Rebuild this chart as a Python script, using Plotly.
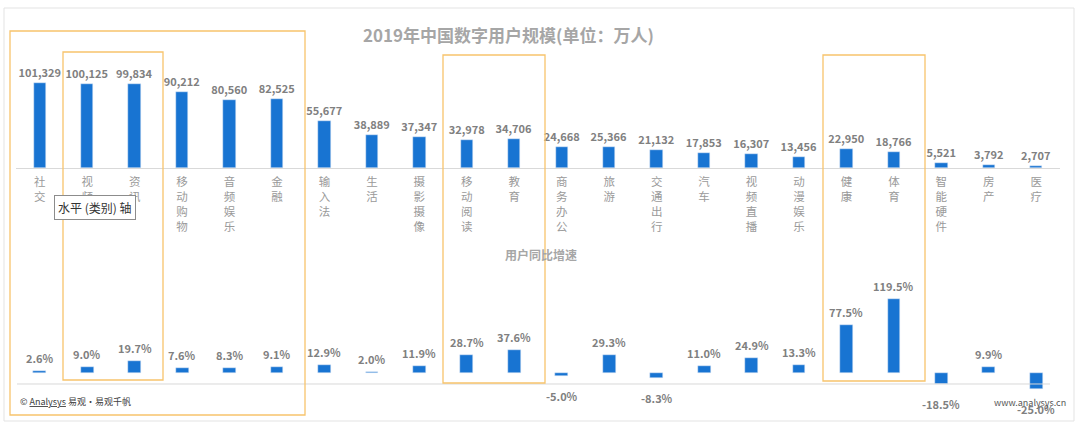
import plotly.graph_objects as go
from plotly.subplots import make_subplots

# Daten
kategorien = ["社交", "视频", "资讯", "移动购物", "音频娱乐", "金融", "输入法", "生活", "摄影摄像",
              "移动阅读", "教育", "商务办公", "旅游", "交通出行", "汽车", "视频直播", "动漫娱乐",
              "健康", "体育", "智能硬件", "房产", "医疗"]
nutzer = [101329, 100125, 99834, 90212, 80560, 82525, 55677, 38889, 37347, 32978, 34706,
          24668, 25366, 21132, 17853, 16307, 13456, 22950, 18766, 5521, 3792, 2707]
wachstum = [2.6, 9.0, 19.7, 7.6, 8.3, 9.1, 12.9, 2.0, 11.9, 28.7, 37.6, -5.0, 29.3, -8.3,
            11.0, 24.9, 13.3, 77.5, 119.5, -18.5, 9.9, -25.0]

W, H = 1080, 424
blau = "#1874D2"
grau_label = "#808080"
orange = "#F7C46C"
font_cn = "Noto Sans CJK SC"

def px_x(p):
    return p / W

def px_y(p):
    return 1 - p / H

# vertikale Beschriftung: ein Zeichen pro Zeile
tick_text = ["<br>".join(list(k)) for k in kategorien]

fig = make_subplots(rows=2, cols=1)

fig.add_trace(go.Bar(
    x=kategorien, y=nutzer, marker_color=blau, width=0.26,
    text=[f"{v:,}" for v in nutzer], textposition="outside", cliponaxis=False,
    constraintext="none",
    textfont=dict(size=11, color=grau_label, family=font_cn, weight="bold"),
    hoverinfo="skip"), row=1, col=1)

fig.add_trace(go.Bar(
    x=kategorien, y=wachstum, marker_color=blau, width=0.27,
    cliponaxis=False, hoverinfo="skip"), row=2, col=1)

# Prozent-Labels unten als Annotationen (negative Werte weiter unten wie im Original)
for k, v in zip(kategorien, wachstum):
    fig.add_annotation(x=k, y=v, xref="x2", yref="y2", text=f"{v:.1f}%",
                       showarrow=False, yshift=13 if v >= 0 else -20,
                       xanchor="center", yanchor="middle",
                       font=dict(size=11, color=grau_label, family=font_cn, weight="bold"))

x_domain = [px_x(16), px_x(1060)]
fig.update_xaxes(domain=x_domain, range=[-0.5, len(kategorien) - 0.5])
fig.update_layout(
    xaxis=dict(tickmode="array", tickvals=kategorien, ticktext=tick_text,
               showline=True, linecolor="#d9d9d9", linewidth=1, ticks="",
               ticklabelstandoff=3,
               tickfont=dict(size=11.5, color="#9a9a9a", family=font_cn),
               showgrid=False, zeroline=False),
    yaxis=dict(domain=[px_y(168), px_y(30)], range=[0, 164500], visible=False),
    xaxis2=dict(showticklabels=False, showline=False, showgrid=False, zeroline=False, ticks=""),
    yaxis2=dict(domain=[px_y(400), px_y(270)], range=[-43.5, 166], visible=False),
)

shapes = []
# Rahmen um die ganze Grafik
shapes.append(dict(type="rect", xref="paper", yref="paper",
                   x0=px_x(4), x1=px_x(1074), y0=px_y(421), y1=px_y(8),
                   line=dict(color="#e3e3e3", width=1)))
# Achsenlinie unten
shapes.append(dict(type="line", xref="paper", yref="y2",
                   x0=px_x(17), x1=px_x(1050), y0=-17.7, y1=-17.7,
                   line=dict(color="#d9d9d9", width=1)))
# orange Markierungen
for (x0, y0, x1, y1) in [(10, 31, 305, 415), (63, 52, 163, 380),
                         (443, 55, 545, 383), (823, 55, 925, 381)]:
    shapes.append(dict(type="rect", xref="paper", yref="paper",
                       x0=px_x(x0), x1=px_x(x1), y0=px_y(y1), y1=px_y(y0),
                       line=dict(color=orange, width=1.3)))

fig.update_layout(
    width=W, height=H, margin=dict(l=0, r=0, t=0, b=0),
    plot_bgcolor="white", paper_bgcolor="white", showlegend=False, bargap=0,
    font=dict(family=font_cn),
    shapes=shapes,
    annotations=list(fig.layout.annotations) + [
        dict(text="<b>2019年中国数字用户规模(单位：万人)</b>", x=px_x(509), y=px_y(35),
             xanchor="center", yanchor="middle",
             xref="paper", yref="paper", showarrow=False,
             font=dict(size=17, color="#a6a6a6", family=font_cn)),
        dict(text="<b>用户同比增速</b>", x=px_x(541), y=px_y(255),
             xanchor="center", yanchor="middle",
             xref="paper", yref="paper", showarrow=False,
             font=dict(size=12, color="#a6a6a6", family=font_cn)),
        dict(text="水平 (类别) 轴", x=px_x(95), y=px_y(207),
             xanchor="center", yanchor="middle",
             xref="paper", yref="paper", showarrow=False,
             bgcolor="white", bordercolor="#8c8c8c", borderwidth=1, borderpad=3,
             font=dict(size=12, color="#333333", family=font_cn)),
        dict(text="© <span style='text-decoration:underline'>Analysys</span> 易观·易观千帆",
             x=px_x(18), y=px_y(401), xanchor="left", yanchor="middle",
             xref="paper", yref="paper", showarrow=False,
             font=dict(size=9, color="#404040", family=font_cn)),
        dict(text="www.analysys.cn", x=px_x(1068), y=px_y(402), xanchor="right", yanchor="middle",
             xref="paper", yref="paper", showarrow=False,
             font=dict(size=9, color="#595959", family=font_cn)),
    ],
)

# Body-Rand der Seite entfernen, damit die Grafik bei 0/0 beginnt
fig.write_html("out.html", config={"displayModeBar": False},
               post_script="document.body.style.margin='0';")
